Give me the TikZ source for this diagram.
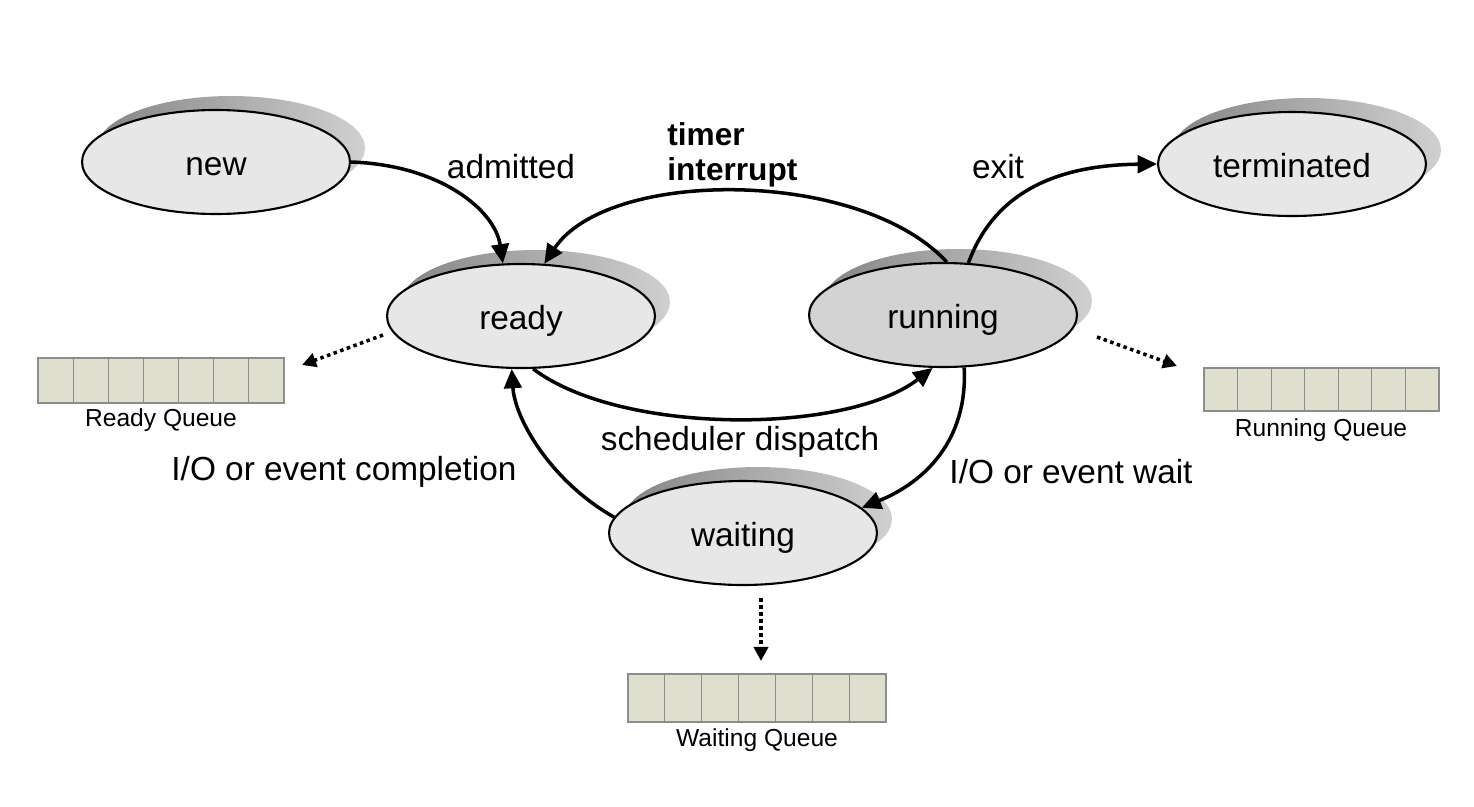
\documentclass[tikz,border=0pt]{standalone}
\usepackage{fontspec}
\setmainfont{Liberation Sans}
\usetikzlibrary{shapes.geometric,arrows.meta,calc}
\definecolor{stfill}{HTML}{E7E7E7}
\definecolor{runfill}{HTML}{D3D3D3}
\definecolor{qfill}{HTML}{DEDFCF}
\definecolor{qline}{HTML}{8C8C8C}
\definecolor{shdark}{HTML}{858585}
\definecolor{shlight}{HTML}{D0D0D0}
\begin{document}
\begin{tikzpicture}[x=0.02cm,y=-0.02cm,
  stt/.style={ellipse,draw=black,line width=1.2pt,fill=stfill,minimum width=5.36cm,minimum height=2.08cm,inner sep=0pt,text height=15pt,text depth=0pt,font=\fontsize{19}{22}\selectfont},
  shadowell/.style={left color=shdark,right color=shlight},
  lbl/.style={font=\fontsize{19}{22}\selectfont,inner sep=0pt},
  qlbl/.style={font=\fontsize{14}{16}\selectfont,inner sep=0pt},
  flow/.style={line width=2pt,-{Triangle[length=11pt,width=10pt]}},
  dotarrow/.style={line width=2pt,dash pattern=on 2pt off 2pt,-{Triangle[length=8pt,width=8pt]}},
  queuebox/.style={draw=qline,line width=0.7pt,fill=qfill,inner sep=0pt,outer sep=0pt}]
\useasboundingbox[fill=white] (0,0) rectangle (1474,806);

% shadows
\shade[shadowell] (231,148) ellipse [x radius=2.68cm, y radius=1.04cm];
\shade[shadowell] (536,302) ellipse [x radius=2.68cm, y radius=1.04cm];
\shade[shadowell] (958,301) ellipse [x radius=2.68cm, y radius=1.04cm];
\shade[shadowell] (758,519) ellipse [x radius=2.68cm, y radius=1.04cm];
\shade[shadowell] (1307,150) ellipse [x radius=2.68cm, y radius=1.04cm];

% states
\node[stt] (new) at (216,162) {new};
\node[stt] (ready) at (521,316) {ready};
\node[stt,fill=runfill] (running) at (943,315) {running};
\node[stt] (waiting) at (743,533) {waiting};
\node[stt] (terminated) at (1292,164) {terminated};

% transitions
\draw[flow] (new.east) .. controls (440,165) and (495,210) .. (ready.109);
\draw[flow] (running.86) .. controls (860,168) and (608,168) .. (ready.66);
\draw[flow] (running.64) .. controls (995,190) and (1060,165) .. (terminated.west);
\draw[flow] (ready.283) .. controls (620,435) and (846,435) .. (running.259);
\draw[flow] (running.292) .. controls (968,440) and (925,482) .. (waiting.12);
\draw[flow] (waiting.173) .. controls (552,482) and (515,420) .. (ready.260);

% labels
\node[lbl] (ladm) at (511,167) {admitted};
\node[lbl,anchor=north west,align=left,font=\fontsize{18}{20}\selectfont\bfseries] (ltimer) at (667,122) {timer\\interrupt};
\node[lbl] (lexit) at (998,167) {exit};
\node[lbl] (lsched) at (740,442) {scheduler dispatch};
\node[lbl] (lcomp) at (344,472) {I/O or event completion};
\node[lbl] (lwait) at (1071,472) {I/O or event wait};

% queues
\node[queuebox,minimum width=4.92cm,minimum height=0.9cm] (rq) at (161,380.5) {};
\node[queuebox,minimum width=4.7cm,minimum height=0.86cm] (runq) at (1321.5,389.5) {};
\node[queuebox,minimum width=5.16cm,minimum height=0.96cm] (wq) at (757,698) {};
\foreach \q in {rq,runq,wq}{
  \foreach \i in {1,...,6}{
    \draw[qline,line width=0.7pt] ($(\q.north west)!\i/7!(\q.north east)$) -- ($(\q.south west)!\i/7!(\q.south east)$);
  }
}
\node[qlbl] (lrq) at (161,420) {Ready Queue};
\node[qlbl] (lrunq) at (1321,430) {Running Queue};
\node[qlbl] (lwq) at (757,740) {Waiting Queue};

% dotted arrows
\coordinate (rd1) at (383,335);
\coordinate (rd2) at (302,365);
\coordinate (rn1) at (1097,337);
\coordinate (rn2) at (1177,366);
\coordinate (wt1) at (761,598);
\coordinate (wt2) at (761,661);
\draw[dotarrow] (rd1) -- (rd2);
\draw[dotarrow] (rn1) -- (rn2);
\draw[dotarrow] (wt1) -- (wt2);
\end{tikzpicture}
\end{document}
